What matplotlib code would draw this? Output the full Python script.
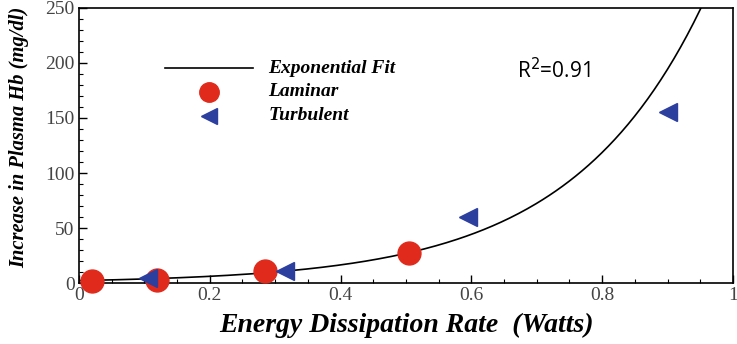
import matplotlib.pyplot as plt
import numpy as np
import matplotlib.ticker as ticker

# data
lam_x = [0.02, 0.12, 0.285, 0.505]
lam_y = [2, 3, 11, 27]
turb_x = [0.105, 0.315, 0.595, 0.90]
turb_y = [5, 11, 60, 155]

# exponential fit y = a*exp(b*x)
fit_a = 2.3
fit_b = 4.93
fit_x = np.linspace(0, 1, 300)
fit_y = fit_a*np.exp(fit_b*fit_x)

serif = 'Liberation Serif'

fig = plt.figure(figsize=(7.37, 3.44), dpi=100)
ax = fig.add_axes([0.107, 0.177, 0.8876, 0.800])

ax.plot(fit_x, fit_y, color='black', lw=1.2, zorder=2)
ax.plot(lam_x, lam_y, 'o', color='#e02a1c', markersize=16.5, zorder=3, clip_on=False)
ax.plot(turb_x, turb_y, '<', color='#2c3f9e', markersize=12.5, zorder=4, clip_on=False)

ax.set_xlim(0, 1)
ax.set_ylim(0, 250)
ax.xaxis.set_major_locator(ticker.MultipleLocator(0.2))
ax.xaxis.set_minor_locator(ticker.MultipleLocator(0.05))
ax.yaxis.set_major_locator(ticker.MultipleLocator(50))
ax.yaxis.set_minor_locator(ticker.MultipleLocator(10))
ax.xaxis.set_major_formatter(ticker.FuncFormatter(lambda v, p: '%g' % round(v, 2)))
ax.tick_params(which='both', direction='in', top=False, right=False)
ax.tick_params(which='major', length=6, width=1, labelsize=14, pad=3)
ax.tick_params(which='minor', length=3, width=0.8)
for lab in ax.get_xticklabels() + ax.get_yticklabels():
    lab.set_fontfamily(serif)
    lab.set_color('#444444')
for s in ax.spines.values():
    s.set_linewidth(1.2)

# legend drawn by hand
ax.plot([0.132, 0.266], [195, 195], color='black', lw=1.2)
ax.plot([0.199], [174], 'o', color='#e02a1c', markersize=14)
ax.plot([0.199], [152], '<', color='#2c3f9e', markersize=11.5)
leg_txt = ['Exponential Fit', 'Laminar', 'Turbulent']
for t, yy in zip(leg_txt, [195, 174, 152]):
    ax.text(0.29, yy, t, fontsize=14, fontweight='bold', style='italic',
            family=serif, va='center', ha='left')

ax.text(0.67, 193, r'R$^2$=0.91', fontsize=15, family='Open Sans', va='center', ha='left')

fig.text(0.551, 0.055, 'Energy Dissipation Rate  (Watts)', fontsize=20, fontweight='bold',
         style='italic', family=serif, ha='center', va='center')
fig.text(0.026, 0.22, 'Increase in Plasma Hb (mg/dl)', fontsize=14.8, fontweight='bold',
         style='italic', family=serif, rotation=90, ha='center', va='bottom')

fig.savefig('out.png', dpi=100)
